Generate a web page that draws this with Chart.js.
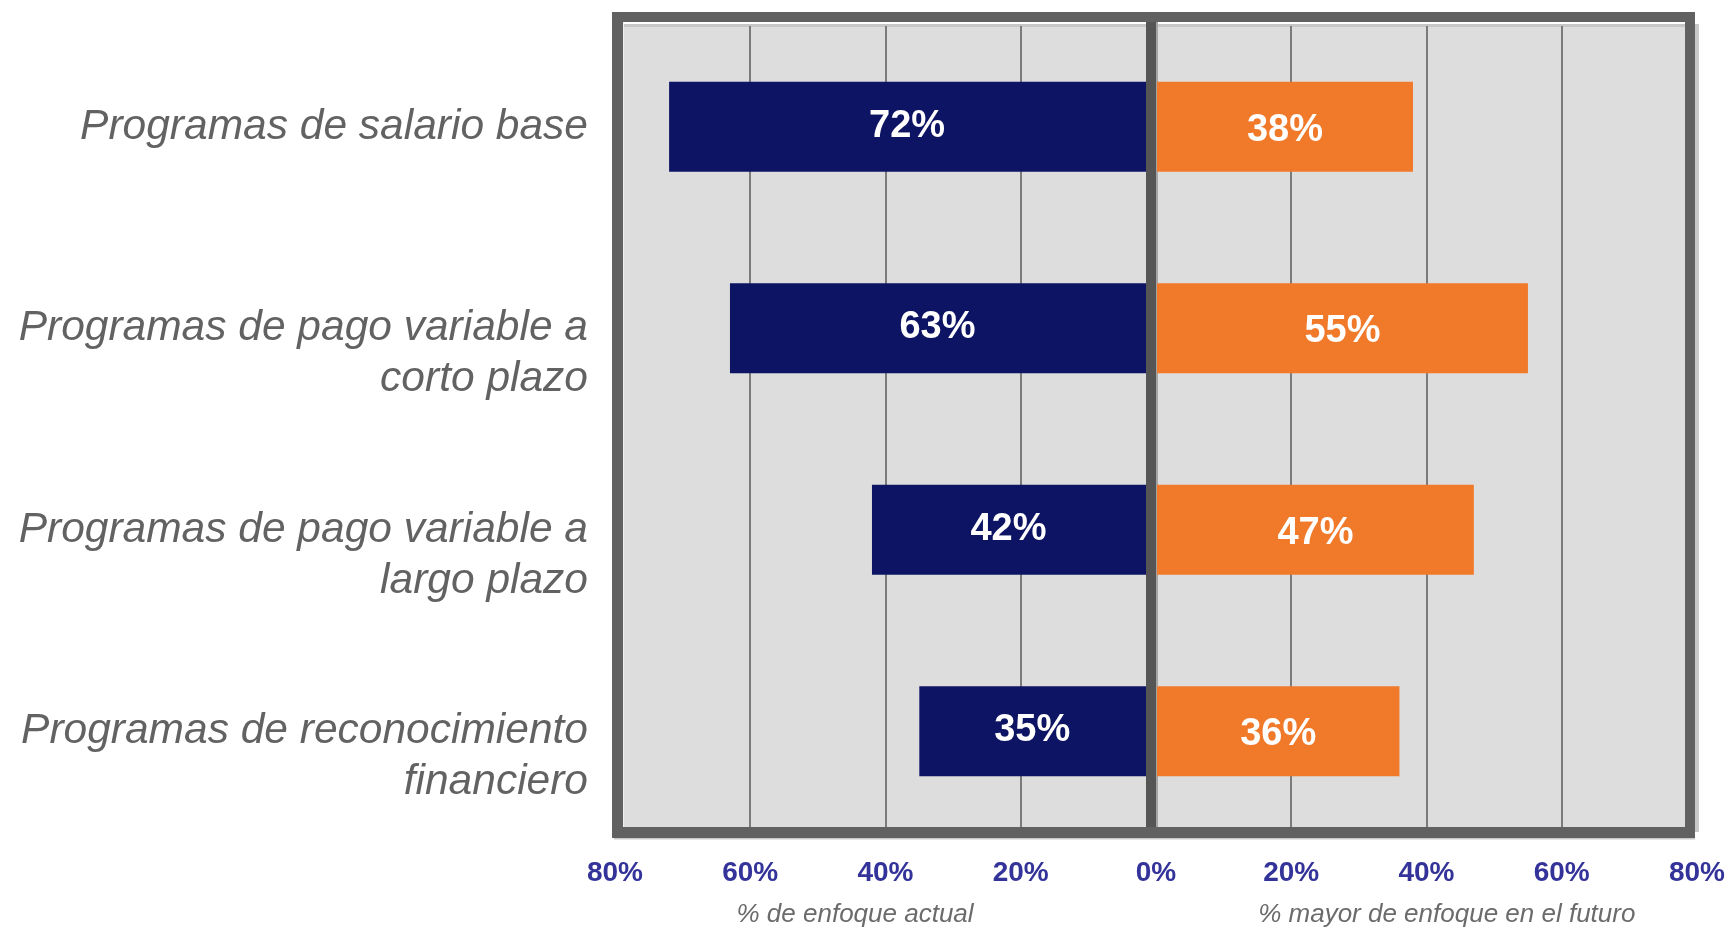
<!DOCTYPE html>
<html>
<head>
<meta charset="utf-8">
<script src="https://cdn.jsdelivr.net/npm/chart.js@4.4.1/dist/chart.umd.min.js"></script>
<style>
  html, body { margin: 0; padding: 0; background: #ffffff; overflow: hidden; }
  canvas { display: block; }
</style>
</head>
<body>
<canvas id="chart" width="1731" height="928"></canvas>
<script>
// Categories (each entry is the list of lines of its label)
const categories = [
  ['Programas de salario base'],
  ['Programas de pago variable a', 'corto plazo'],
  ['Programas de pago variable a', 'largo plazo'],
  ['Programas de reconocimiento', 'financiero']
];

// Series values, in percent
const currentFocus = [72, 63, 42, 35];   // % de enfoque actual (drawn to the left)
const futureFocus  = [38, 55, 47, 36];   // % mayor de enfoque en el futuro (drawn to the right)

// Axis ticks and titles
const xTickValues = [-80, -60, -40, -20, 0, 20, 40, 60, 80];
const xTickLabels = ['80%', '60%', '40%', '20%', '0%', '20%', '40%', '60%', '80%'];
const leftAxisTitle  = '% de enfoque actual';
const rightAxisTitle = '% mayor de enfoque en el futuro';

const FONT = "'Liberation Sans', Arial, Helvetica, sans-serif";
const BLUE = '#0e1464';
const ORANGE = '#f1792a';

// Grey panel behind the bars, the heavy frame, the centre divider and the value labels
const panelPlugin = {
  id: 'panel',
  beforeDraw(chart) {
    const { ctx, chartArea: a, scales: { x } } = chart;
    ctx.save();
    ctx.fillStyle = '#ffffff';
    ctx.fillRect(0, 0, chart.width, chart.height);
    const L = a.left + 8, R = a.right - 12, T = a.top - 4, B = a.bottom - 5;
    ctx.fillStyle = '#dddddd';
    ctx.fillRect(L, T, R - L, B - T);
    ctx.fillStyle = '#ffffff';
    ctx.fillRect(L, T, R - L, 2);
    ctx.fillStyle = '#c6c6c6';
    ctx.fillRect(L, T + 2, R - L, 3);
    ctx.fillStyle = '#efefef';
    ctx.fillRect(L, T, 1, B - T);
    // thin highlight next to the divider
    const zero = x.getPixelForValue(0);
    ctx.fillStyle = '#a4a4a4';
    ctx.fillRect(zero, T, 2, B - T);
    ctx.restore();
  },
  afterDatasetsDraw(chart) {
    const { ctx, chartArea: a, scales: { x } } = chart;
    const zero = x.getPixelForValue(0);
    const oL = a.left - 3, oR = a.right - 2, oT = a.top - 14, oB = a.bottom + 6;
    const iL = a.left + 8, iR = a.right - 12, iT = a.top - 4, iB = a.bottom - 5;
    ctx.save();
    // soft shadow on the right and bottom of the frame
    ctx.fillStyle = '#c9c9c9';
    ctx.fillRect(oR, iT + 2, 4, iB - iT + 3);
    ctx.fillRect(oL + 2, oB, oR - oL - 2, 1.5);
    // centre divider
    ctx.fillStyle = '#555555';
    ctx.fillRect(zero - 10, iT, 10, iB - iT);
    // frame
    ctx.fillStyle = '#616161';
    ctx.fillRect(oL, oT, oR - oL, iT - oT);
    ctx.fillRect(oL, iB, oR - oL, oB - iB);
    ctx.fillRect(oL, oT, iL - oL, oB - oT);
    ctx.fillRect(iR, oT, oR - iR, oB - oT);

    // value labels inside the bars
    ctx.fillStyle = '#ffffff';
    ctx.font = 'bold 38px ' + FONT;
    ctx.textAlign = 'center';
    ctx.textBaseline = 'middle';
    chart.data.datasets.forEach((ds, di) => {
      const meta = chart.getDatasetMeta(di);
      meta.data.forEach((el, i) => {
        const v = Math.abs(ds.data[i]);
        const left = di === 0;
        const cx = (el.x + el.base) / 2 - (left ? 5 : 0);
        const cy = el.y + (left ? -0.5 : 3.5);
        ctx.fillText(v + '%', cx, cy);
      });
    });

    // axis titles under each half
    ctx.fillStyle = '#6b6b6b';
    ctx.font = 'italic 26px ' + FONT;
    ctx.fillText(leftAxisTitle, x.getPixelForValue(-44.5), 915);
    ctx.fillText(rightAxisTitle, x.getPixelForValue(43), 915);
    ctx.restore();
  }
};

new Chart(document.getElementById('chart'), {
  type: 'bar',
  data: {
    labels: categories,
    datasets: [
      {
        label: leftAxisTitle,
        data: currentFocus.map(v => -v),
        backgroundColor: BLUE,
        borderWidth: 0,
        barPercentage: 0.447,
        categoryPercentage: 1
      },
      {
        label: rightAxisTitle,
        data: futureFocus,
        backgroundColor: ORANGE,
        borderWidth: 0,
        barPercentage: 0.447,
        categoryPercentage: 1
      }
    ]
  },
  options: {
    indexAxis: 'y',
    responsive: false,
    animation: false,
    devicePixelRatio: 1,
    layout: { padding: { top: 26, right: 34, bottom: 0, left: 0 } },
    plugins: {
      legend: { display: false },
      tooltip: { enabled: false }
    },
    scales: {
      x: {
        stacked: true,
        min: -80,
        max: 80,
        afterBuildTicks(scale) {
          scale.ticks = xTickValues.map(v => ({ value: v }));
        },
        afterFit(scale) {
          scale.height = 96;
          // the end labels fit inside the page margins already
          scale.paddingLeft = 0;
          scale.paddingRight = 0;
        },
        ticks: {
          autoSkip: false,
          maxRotation: 0,
          padding: 24,
          color: '#33339a',
          font: { family: FONT, size: 28, weight: 'bold' },
          callback: (value, index) => xTickLabels[index]
        },
        grid: {
          drawTicks: false,
          lineWidth: 2,
          color: ctx => (ctx.tick && (ctx.tick.value === 0 || Math.abs(ctx.tick.value) === 80)) ? 'rgba(0,0,0,0)' : '#7b7b7b'
        },
        border: { display: false }
      },
      y: {
        stacked: true,
        afterFit(scale) {
          scale.width = 615;
          // category labels sit inside their bands; no extra room above/below needed
          scale.paddingTop = 0;
          scale.paddingBottom = 0;
        },
        ticks: {
          padding: 27,
          color: '#626262',
          font: { family: FONT, size: 42.5, style: 'italic', lineHeight: 1.2 },
          // keep the first line of a wrapped label level with its bar
          callback(value, index) {
            const lines = categories[index];
            return lines.length > 1 ? [''].concat(lines) : lines;
          }
        },
        grid: { display: false, drawTicks: false },
        border: { display: false }
      }
    }
  },
  plugins: [panelPlugin]
});
</script>
</body>
</html>
